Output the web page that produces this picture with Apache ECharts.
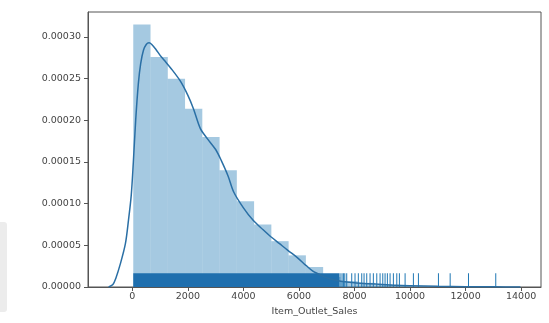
<!DOCTYPE html>
<html>
<head>
<meta charset="utf-8">
<script src="https://cdn.jsdelivr.net/npm/echarts@6/dist/echarts.min.js"></script>
<style>
html,body{margin:0;padding:0;background:#fff;}
#chart{width:549px;height:323px;}
</style>
</head>
<body>
<div id="chart"></div>
<script>
// ---- data ----
const binStart = 33;
const binEnd = 13087;
const binDensity = [0.000315,0.000276,0.000250,0.000214,0.000180,0.000140,0.000103,0.000075,0.000055,0.000038,0.000024,0.000012,0.000007,0.000005,0.000003,0.0000018,0.0000008,0.0000003,0.0000003,0.0000003,0.0000003];
const kdeX = [-855,-700,-600,-430,-250,-140,-40,36,120,216,300,400,500,600,700,850,1000,1150,1400,1730,2000,2200,2450,2700,3000,3200,3450,3650,4000,4350,4700,5000,5300,5600,5950,6250,6500,6800,7100,7500,8000,8500,9000,9500,10000,11000,12000,13000,13975];
const kdeY = [0,0.000003,0.000010,0.000028,0.000052,0.00008,0.000110,0.000150,0.000200,0.000244,0.000268,0.000284,0.000291,0.000293,0.000291,0.000285,0.000278,0.000272,0.000262,0.000247,0.000230,0.000214,0.000190,0.000178,0.000165,0.000152,0.000133,0.000114,0.000095,0.000080,0.000069,0.000060,0.000052,0.000044,0.000035,0.000026,0.000019,0.000014,0.000010,0.000007,0.000005,0.000004,0.000003,0.000002,0.0000015,0.0000008,0.0000004,0.0000002,0];
const rugDenseRange = [33, 7450];
const rugSparse = [7480,7550,7600,7650,7720,7900,8019,8138,8261,8344,8441,8560,8679,8802,8921,9018,9101,9184,9281,9400,9523,9617,9822,10121,10302,11023,11445,12105,13087];
const xTicks = [0,2000,4000,6000,8000,10000,12000,14000];
const yTicks = [0,0.00005,0.00010,0.00015,0.00020,0.00025,0.00030];
const xRange = [-1597, 14716];
const yRange = [0, 0.00033];
const xName = 'Item_Outlet_Sales';

// ---- derived ----
const binW = (binEnd - binStart) / binDensity.length;
const barData = binDensity.map((d, i) => [binStart + i * binW, binStart + (i + 1) * binW, d]);
const kdeData = kdeX.map((x, i) => [x, kdeY[i]]);
const rugH = (yRange[1] - yRange[0]) * 0.05;

const chart = echarts.init(document.getElementById('chart'), null, {renderer: 'canvas'});
const font = 'DejaVu Sans';
const axisCol = '#555';
chart.setOption({
  animation: false,
  backgroundColor: '#fff',
  graphic: [{
    type: 'rect', left: 0, top: 222, shape: {width: 7, height: 90, r: [0, 3, 3, 0]},
    style: {fill: '#ececec'}, silent: true
  }],
  grid: {left: 88, right: 8, top: 12, bottom: 36, show: true, borderColor: axisCol, borderWidth: 1},
  xAxis: {
    type: 'value', min: xRange[0], max: xRange[1],
    name: xName, nameLocation: 'middle', nameGap: 20,
    nameTextStyle: {fontFamily: font, fontSize: 9.5, color: '#444'},
    splitLine: {show: false},
    axisLine: {show: true, onZero: false, lineStyle: {color: axisCol, width: 1}},
    axisTick: {show: true, length: 4, lineStyle: {color: axisCol}, customValues: xTicks},
    axisLabel: {customValues: xTicks, fontFamily: font, fontSize: 9.5, color: '#444', margin: 5,
      formatter: v => String(Math.round(v))}
  },
  yAxis: {
    type: 'value', min: yRange[0], max: yRange[1],
    splitLine: {show: false},
    axisLine: {show: true, onZero: false, lineStyle: {color: axisCol, width: 1}},
    axisTick: {show: true, length: 4, lineStyle: {color: axisCol}, customValues: yTicks},
    axisLabel: {customValues: yTicks, fontFamily: font, fontSize: 9.5, color: '#444', margin: 7,
      formatter: v => v.toFixed(5)}
  },
  series: [
    {
      type: 'custom', name: 'hist', data: barData, z: 2,
      renderItem: (params, api) => {
        const p0 = api.coord([api.value(0), api.value(2)]);
        const p1 = api.coord([api.value(1), 0]);
        return {type: 'rect', shape: {x: p0[0], y: p0[1], width: p1[0] - p0[0], height: p1[1] - p0[1]},
          style: {fill: 'rgba(31,119,180,0.4)'}};
      }
    },
    {
      type: 'custom', name: 'rugDense', data: [rugDenseRange], z: 3,
      renderItem: (params, api) => {
        const p0 = api.coord([api.value(0), rugH]);
        const p1 = api.coord([api.value(1), 0]);
        return {type: 'rect', shape: {x: p0[0], y: p0[1], width: p1[0] - p0[0], height: p1[1] - p0[1]},
          style: {fill: '#1f6fae'}};
      }
    },
    {
      type: 'custom', name: 'rug', data: rugSparse.map(v => [v]), z: 3,
      renderItem: (params, api) => {
        const p0 = api.coord([api.value(0), rugH]);
        const p1 = api.coord([api.value(0), 0]);
        return {type: 'line', shape: {x1: p0[0], y1: p0[1], x2: p1[0], y2: p1[1]},
          style: {stroke: '#1f77b4', lineWidth: 1}};
      }
    },
    {
      type: 'line', name: 'kde', data: kdeData, showSymbol: false, smooth: 0.3, z: 4,
      lineStyle: {color: '#2a6fa5', width: 1.5}
    }
  ]
});
</script>
</body>
</html>
